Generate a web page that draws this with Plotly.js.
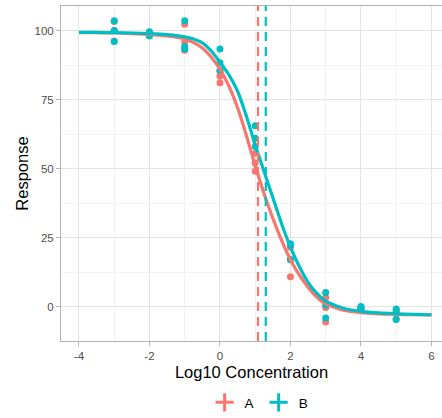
<!DOCTYPE html>
<html>
<head>
<meta charset="utf-8">
<script src="https://cdn.plot.ly/plotly-3.0.1.min.js"></script>
<style>html,body{margin:0;padding:0;background:#fff;}#chart{width:442px;height:418px;}</style>
</head>
<body>
<div id="chart"></div>
<script>
// Observed data (log10 concentration, 3 replicates each)
var conc = [-3, -2, -1, 0, 1, 2, 3, 4, 5];
var respA = [
  [103.3, 100.0, 96.2],
  [99.3, 98.2, 98.6],
  [102.3, 95.8, 92.8],
  [85.3, 83.5, 81.1],
  [55.5, 52.0, 49.0],
  [21.5, 17.0, 10.8],
  [3.3, -0.3, -5.6],
  [-0.2, -1.0, -0.7],
  [-1.2, -2.2, -4.4]
];
var respB = [
  [103.5, 100.0, 96.0],
  [99.5, 98.0, 98.8],
  [103.5, 94.2, 93.3],
  [93.3, 88.3, 85.5],
  [65.5, 61.0, 58.0],
  [22.8, 17.1, 22.3],
  [5.1, 0.6, -4.1],
  [0.0, -1.2, -0.5],
  [-0.9, -2.0, -4.7]
];
// Fitted curves
var curveX = [-4, -3.5, -3, -2.5, -2, -1.5, -1, -0.75, -0.5, -0.25, 0, 0.25, 0.5, 0.75, 1, 1.25, 1.5, 1.75, 2, 2.25, 2.5, 2.75, 3, 3.5, 4, 4.5, 5, 5.5, 6];
var curveA = [99.2, 99.2, 99.1, 98.9, 98.6, 98.0, 96.9, 95.6, 93.7, 90.4, 86.0, 80.0, 72.0, 62.0, 51.0, 41.0, 32.0, 24.0, 17.0, 11.5, 7.0, 3.4, 1.0, -1.3, -2.2, -2.6, -2.8, -2.95, -3.0];
var curveB = [99.3, 99.3, 99.2, 99.1, 98.9, 98.5, 97.7, 96.9, 95.5, 92.6, 88.5, 84.0, 78.0, 69.0, 58.5, 49.0, 39.5, 30.0, 21.5, 14.5, 8.8, 4.8, 2.0, -0.6, -1.7, -2.3, -2.6, -2.85, -3.0];
// EC50 (log10) dashed lines
var groups = ['A', 'B'];
var ec50 = [1.08, 1.30];
var colors = ['#F8766D', '#00BFC4'];

function flatten(resp) {
  var xs = [], ys = [];
  for (var i = 0; i < conc.length; i++) {
    for (var j = 0; j < resp[i].length; j++) { xs.push(conc[i]); ys.push(resp[i][j]); }
  }
  return {x: xs, y: ys};
}
var pA = flatten(respA), pB = flatten(respB);

var traces = [
  {x: pA.x, y: pA.y, type: 'scatter', mode: 'markers', marker: {color: colors[0], size: 7}, showlegend: false, hoverinfo: 'x+y'},
  {x: pB.x, y: pB.y, type: 'scatter', mode: 'markers', marker: {color: colors[1], size: 7}, showlegend: false, hoverinfo: 'x+y'},
  {x: curveX, y: curveA, type: 'scatter', mode: 'lines', line: {color: colors[0], width: 3.2, shape: 'spline', smoothing: 0.6}, showlegend: false},
  {x: curveX, y: curveB, type: 'scatter', mode: 'lines', line: {color: colors[1], width: 3.2, shape: 'spline', smoothing: 0.6}, showlegend: false},
  {x: [null], y: [null], type: 'scatter', mode: 'markers', name: groups[0], marker: {color: colors[0], size: 13, symbol: 'cross-thin-open', line: {color: colors[0], width: 3}}},
  {x: [null], y: [null], type: 'scatter', mode: 'markers', name: groups[1], marker: {color: colors[1], size: 13, symbol: 'cross-thin-open', line: {color: colors[1], width: 3}}}
];

var shapes = ec50.map(function (v, i) {
  return {type: 'line', xref: 'x', yref: 'paper', x0: v, x1: v, y0: 0, y1: 1,
          line: {color: colors[i], width: 2.2, dash: '9px,6px'}, layer: 'above'};
});

var tickFont = {family: 'Liberation Sans, Arial, sans-serif', size: 11.5, color: '#4D4D4D'};
var titleFont = {family: 'Liberation Sans, Arial, sans-serif', size: 16.5, color: '#000'};

var layout = {
  width: 442, height: 418,
  margin: {l: 61, r: 0, t: 6, b: 74},
  paper_bgcolor: '#fff', plot_bgcolor: '#fff',
  showlegend: true,
  xaxis: {
    range: [-4.51, 6.30], tickvals: [-4, -2, 0, 2, 4, 6], ticktext: ['-4', '-2', '0', '2', '4', '6'],
    showgrid: true, gridcolor: '#E3E3E3', gridwidth: 1,
    minor: {tickvals: [-3, -1, 1, 3, 5], showgrid: true, gridcolor: '#F2F2F2', gridwidth: 1, ticks: ''},
    showline: true, linecolor: '#B3B3B3', linewidth: 1, mirror: true,
    ticks: 'outside', ticklen: 4, tickcolor: '#B3B3B3', tickwidth: 1,
    tickfont: tickFont, zeroline: false,
    title: {text: 'Log10 Concentration', font: titleFont, standoff: 5}
  },
  yaxis: {
    range: [-12.46, 108.87], tickvals: [0, 25, 50, 75, 100], ticktext: ['0', '25', '50', '75', '100'],
    showgrid: true, gridcolor: '#E3E3E3', gridwidth: 1,
    minor: {tickvals: [12.5, 37.5, 62.5, 87.5], showgrid: true, gridcolor: '#F2F2F2', gridwidth: 1, ticks: ''},
    showline: true, linecolor: '#B3B3B3', linewidth: 1, mirror: true,
    ticks: 'outside', ticklen: 4, tickcolor: '#B3B3B3', tickwidth: 1,
    tickfont: tickFont, zeroline: false,
    title: {text: 'Response', font: titleFont, standoff: 1}
  },
  legend: {
    orientation: 'h', x: 0.52, xanchor: 'center', y: -0.185, yanchor: 'middle',
    font: {family: 'Liberation Sans, Arial, sans-serif', size: 13.5, color: '#000'},
    itemwidth: 30, tracegroupgap: 0, bgcolor: 'rgba(0,0,0,0)'
  },
  shapes: shapes
};

Plotly.newPlot('chart', traces, layout, {displayModeBar: false, staticPlot: true});
</script>
</body>
</html>
